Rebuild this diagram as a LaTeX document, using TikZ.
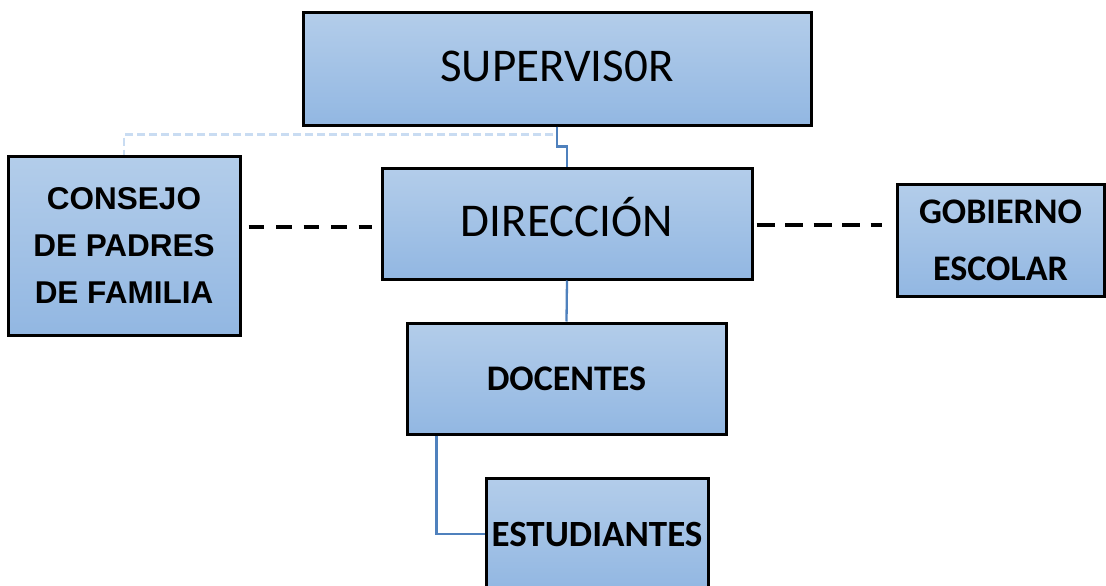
\documentclass[tikz,border=0pt]{standalone}
\usepackage{fontspec}
\newfontfamily\calibri{Carlito}
\newfontfamily\arialfont{Liberation Sans}
\begin{document}
\begin{tikzpicture}[x=1pt,y=-1pt,
  box/.style={draw=black, line width=3pt, top color=boxtop, bottom color=boxbot,
    inner sep=0pt, align=center, text=black},
  bigtext/.style={font=\calibri\fontsize{47}{56}\selectfont, text height=30pt, text depth=0pt},
  link/.style={draw=linkblue, line width=2.3pt},
  lightlink/.style={draw=lightblue, line width=2.3pt, dash pattern=on 8pt off 4pt},
  blackdash/.style={draw=black, line width=3.6pt}
]
\definecolor{boxtop}{HTML}{B3CDEA}
\definecolor{boxbot}{HTML}{92B7E2}
\definecolor{linkblue}{HTML}{4F81BD}
\definecolor{lightblue}{HTML}{C9DCF2}
\useasboundingbox (0,0) rectangle (1106,586);
\clip (0,0) rectangle (1106,586);
\fill[white] (0,0) rectangle (1106,586);

\node[box, bigtext, minimum width=508pt, minimum height=112pt] (sup) at (557,69)
  {\raisebox{2pt}{SUPERVIS0R}};
\node[box, bigtext, minimum width=370pt, minimum height=111pt] (dir) at (567,223.5)
  {\raisebox{2pt}{DIRECCIÓN}};
\node[box, minimum width=232pt, minimum height=179pt,
  font=\arialfont\bfseries\fontsize{31.5}{47}\selectfont] (con) at (124,245.5)
  {CONSEJO\\DE PADRES\\DE FAMILIA};
\node[box, minimum width=207pt, minimum height=112pt,
  font=\calibri\bfseries\fontsize{36}{57}\selectfont] (gob) at (1000.5,240)
  {GOBIERNO\\ESCOLAR};
\node[box, minimum width=319pt, minimum height=111pt,
  font=\calibri\bfseries\fontsize{36}{44}\selectfont] (doc) at (566.5,378.5) {DOCENTES};
\node[box, minimum width=222pt, minimum height=112pt,
  font=\calibri\bfseries\fontsize{37}{44}\selectfont] (est) at (597,534) {ESTUDIANTES};

% connectors
\draw[lightlink] (sup.south) -- ++(0,8) -| (con.north);
\draw[link] (sup.south) -- ++(0,20) -| (dir.north);
\draw[link] (dir.south) -- (doc.north);
\draw[link] ([xshift=31pt]doc.south west) |- (est.west);
\draw[blackdash, dash pattern=on 15.5pt off 12pt]
  ([xshift=7pt,yshift=-3.5pt]con.east |- dir.west) -- ([xshift=-9pt,yshift=-3.5pt]dir.west);
\draw[blackdash, dash pattern=on 18pt off 10.5pt]
  ([xshift=3pt,yshift=-1.5pt]dir.east) -- ([xshift=-14pt,yshift=-1.5pt]gob.west |- dir.east);
\end{tikzpicture}
\end{document}
